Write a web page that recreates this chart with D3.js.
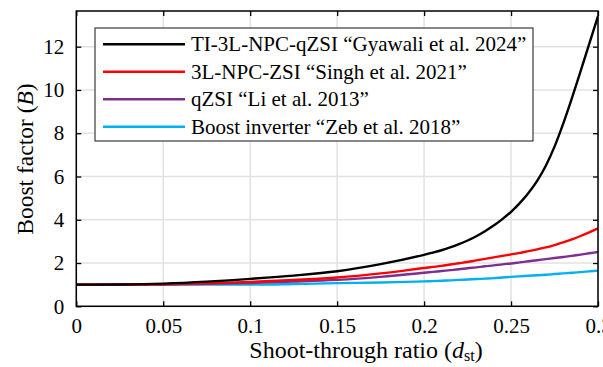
<!DOCTYPE html>
<html>
<head>
<meta charset="utf-8">
<script src="https://cdn.jsdelivr.net/npm/d3@7"></script>
<style>
  html, body { margin: 0; padding: 0; background: #fff; }
  svg { display: block; }
  svg text { font-family: 'Liberation Serif', 'Times New Roman', serif !important; }
</style>
</head>
<body>
<svg id="chart" width="603" height="367"></svg>
<script>
// ---- data ----
const dst = [0, 0.025, 0.05, 0.075, 0.1, 0.125, 0.15, 0.175, 0.2,
             0.205, 0.21, 0.215, 0.22, 0.225, 0.23, 0.235, 0.24, 0.245, 0.25,
             0.255, 0.26, 0.265, 0.27, 0.275, 0.28, 0.285, 0.29, 0.295, 0.3];
const seriesNames = [
  "TI-3L-NPC-qZSI \u201cGyawali et al. 2024\u201d",
  "3L-NPC-ZSI \u201cSingh et al. 2021\u201d",
  "qZSI \u201cLi et al. 2013\u201d",
  "Boost inverter \u201cZeb et al. 2018\u201d"
];
const tiNpcQzsi = [1, 1.01, 1.05, 1.14, 1.27, 1.42, 1.62, 1.95, 2.38,
                   2.48, 2.59, 2.72, 2.87, 3.04, 3.24, 3.47, 3.73, 4.03, 4.37,
                   4.77, 5.24, 5.80, 6.50, 7.38, 8.44, 9.62, 10.87, 12.14, 13.41];
const npcZsi    = [1, 1.0, 1.02, 1.06, 1.13, 1.22, 1.33, 1.52, 1.77,
                   1.82, 1.87, 1.93, 1.99, 2.05, 2.12, 2.19, 2.26, 2.33, 2.4,
                   2.47, 2.55, 2.63, 2.72, 2.83, 2.95, 3.09, 3.25, 3.42, 3.6];
const qzsi      = [1, 1.0, 1.01, 1.04, 1.08, 1.14, 1.22, 1.36, 1.55,
                   1.59, 1.63, 1.67, 1.71, 1.76, 1.8, 1.85, 1.89, 1.94, 1.98,
                   2.03, 2.08, 2.13, 2.18, 2.23, 2.28, 2.33, 2.39, 2.45, 2.51];
const boostInv  = [1, 1.0, 1.0, 1.0, 1.0, 1.03, 1.07, 1.1, 1.15,
                   1.165, 1.18, 1.2, 1.22, 1.24, 1.26, 1.28, 1.3, 1.33, 1.36,
                   1.385, 1.41, 1.435, 1.46, 1.49, 1.52, 1.55, 1.58, 1.615, 1.65];
const xTicks = [0, 0.05, 0.1, 0.15, 0.2, 0.25, 0.3];
const xTickLabels = ["0", "0.05", "0.1", "0.15", "0.2", "0.25", "0.3"];
const yTicks = [0, 2, 4, 6, 8, 10, 12];
const yTickLabels = ["0", "2", "4", "6", "8", "10", "12"];
const colors = ["#000000", "#ff0000", "#7e2f8e", "#00b0f0"];

const allSeries = [tiNpcQzsi, npcZsi, qzsi, boostInv];

// ---- layout ----
const L = 76.3, R = 598, T = 11, B = 306.3;
const FONT = "'Liberation Serif', 'Times New Roman', serif";
const svg = d3.select("#chart");
const x = d3.scaleLinear().domain([0, 0.3]).range([L, R]);
const y = d3.scaleLinear().domain([0, 13.65]).range([B, T]);

// grid
const grid = svg.append("g");
grid.selectAll("line.gx").data(xTicks).join("line")
  .attr("x1", d => x(d)).attr("x2", d => x(d)).attr("y1", T).attr("y2", B)
  .attr("stroke", "#e2e2e2").attr("stroke-width", 1.5);
grid.selectAll("line.gy").data(yTicks).join("line")
  .attr("y1", d => y(d)).attr("y2", d => y(d)).attr("x1", L).attr("x2", R)
  .attr("stroke", "#e2e2e2").attr("stroke-width", 1.5);

// curves
const line = d3.line().x((d, i) => x(dst[i])).y(d => y(d)).curve(d3.curveMonotoneX);
svg.append("clipPath").attr("id", "clip").append("rect")
  .attr("x", L).attr("y", T).attr("width", R - L).attr("height", B - T);
svg.append("g").attr("clip-path", "url(#clip)")
  .selectAll("path").data(allSeries.slice().reverse()).join("path")
  .attr("d", d => line(d))
  .attr("fill", "none")
  .attr("stroke", (d, i) => colors[allSeries.length - 1 - i])
  .attr("stroke-width", 2.4)
  .attr("stroke-linejoin", "round");

// axes (inward ticks on all four sides)
const tickLen = 5;
const fmtX = (d) => xTickLabels[xTicks.indexOf(d)];
const fmtY = (d) => yTickLabels[yTicks.indexOf(d)];
const axB = svg.append("g").attr("transform", `translate(0,${B})`)
  .call(d3.axisBottom(x).tickValues(xTicks).tickFormat(fmtX).tickSizeInner(-tickLen).tickSizeOuter(0).tickPadding(12));
const axT = svg.append("g").attr("transform", `translate(0,${T})`)
  .call(d3.axisTop(x).tickValues(xTicks).tickFormat("").tickSizeInner(-tickLen).tickSizeOuter(0));
const axL = svg.append("g").attr("transform", `translate(${L},0)`)
  .call(d3.axisLeft(y).tickValues(yTicks).tickFormat(fmtY).tickSizeInner(-tickLen).tickSizeOuter(0).tickPadding(12));
const axR = svg.append("g").attr("transform", `translate(${R},0)`)
  .call(d3.axisRight(y).tickValues(yTicks).tickFormat("").tickSizeInner(-tickLen).tickSizeOuter(0));
[axB, axT, axL, axR].forEach(a => {
  a.attr("font-family", null).attr("font-size", null);
  a.select(".domain").remove();
  a.selectAll(".tick line").attr("stroke", "#000").attr("stroke-width", 1.3);
  a.selectAll("text").attr("fill", "#000").style("font-family", FONT).style("font-size", "21px");
});
svg.append("rect").attr("x", L).attr("y", T).attr("width", R - L).attr("height", B - T)
  .attr("fill", "none").attr("stroke", "#000").attr("stroke-width", 1.5);

// axis labels
const yl = svg.append("text").attr("transform", "translate(33,159) rotate(-90)")
  .attr("text-anchor", "middle").style("font-family", FONT).style("font-size", "23.5px").attr("fill", "#000");
yl.append("tspan").text("Boost factor (");
yl.append("tspan").attr("font-style", "italic").text("B");
yl.append("tspan").text(")");

const xl = svg.append("text").attr("x", 366).attr("y", 358)
  .attr("text-anchor", "middle").style("font-family", FONT).style("font-size", "24px").attr("fill", "#000");
xl.append("tspan").text("Shoot-through ratio (");
xl.append("tspan").attr("font-style", "italic").text("d");
xl.append("tspan").style("font-size", "16px").attr("dy", 3).text("st");
xl.append("tspan").attr("dy", -3).text(")");

// legend
const lg = svg.append("g");
lg.append("rect").attr("x", 95).attr("y", 28).attr("width", 438).attr("height", 113)
  .attr("fill", "#fff").attr("stroke", "#3a3a3a").attr("stroke-width", 1.2);
const rows = lg.selectAll("g.row").data(seriesNames).join("g")
  .attr("transform", (d, i) => `translate(0,${44.3 + i * 27.5})`);
rows.append("line").attr("x1", 103).attr("x2", 185).attr("y1", 0).attr("y2", 0)
  .attr("stroke", (d, i) => colors[i]).attr("stroke-width", 2.4);
rows.append("text").attr("x", 191).attr("y", 7).style("font-family", FONT).style("font-size", "21px")
  .attr("fill", "#000").text(d => d);
</script>
</body>
</html>
